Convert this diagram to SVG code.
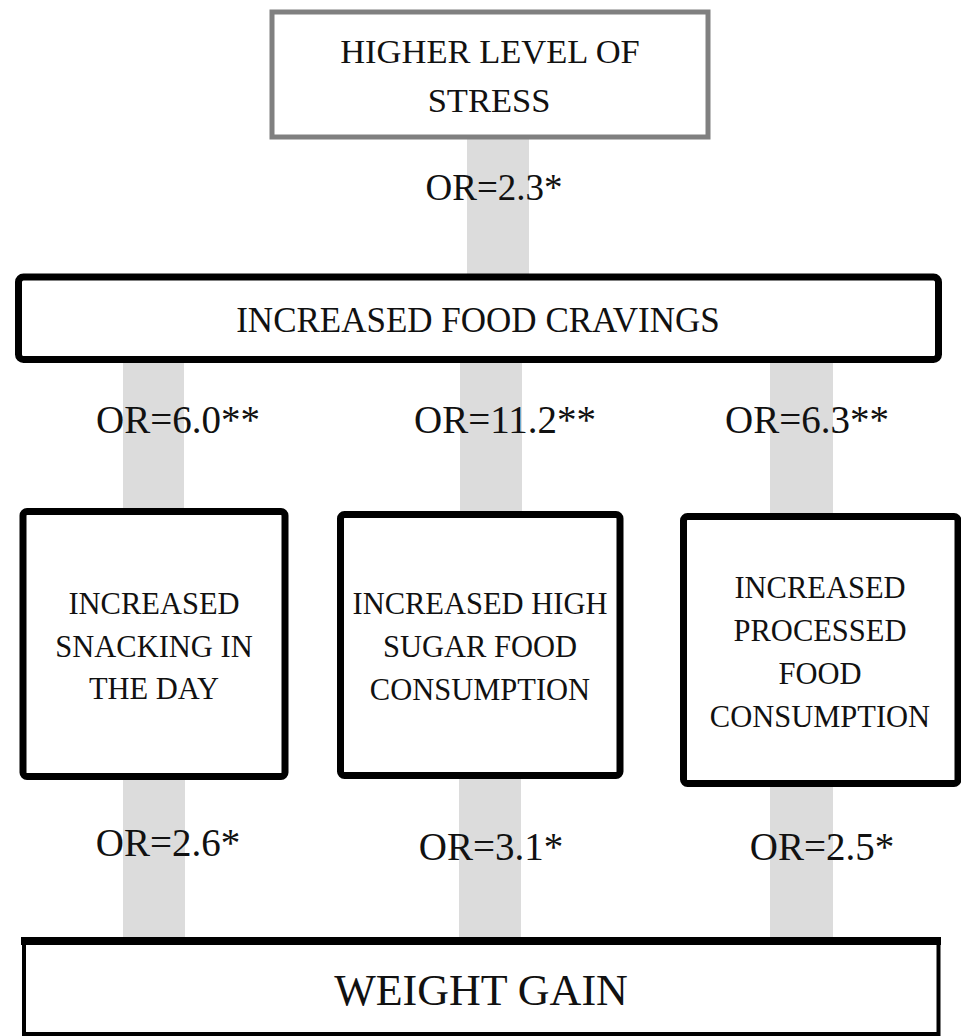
<svg xmlns="http://www.w3.org/2000/svg" width="961" height="1036" viewBox="0 0 961 1036">
<style>
.bar{fill:#dcdcdc}
.box{fill:#fff;stroke:#000;stroke-width:7}
.t{font-family:"Liberation Serif","Times New Roman",serif;fill:#111;text-anchor:middle}
.lbl{font-size:39px}
.in{font-size:30.5px}
</style>
<rect width="961" height="1036" fill="#fff"/>
<g id="connectors">
<rect class="bar" x="467" y="139" width="62" height="136"/>
<rect class="bar" x="123" y="363" width="61" height="147"/>
<rect class="bar" x="460" y="363" width="62" height="150"/>
<rect class="bar" x="770" y="363" width="63" height="152"/>
<rect class="bar" x="123" y="780" width="62" height="157"/>
<rect class="bar" x="459" y="779" width="62" height="158"/>
<rect class="bar" x="770" y="787" width="63" height="150"/>
<text class="t" x="494" y="200" font-size="37">OR=2.3*</text>
<text class="t lbl" x="178" y="433">OR=6.0**</text>
<text class="t lbl" x="505" y="433">OR=11.2**</text>
<text class="t lbl" x="807" y="433">OR=6.3**</text>
<text class="t lbl" x="168" y="856">OR=2.6*</text>
<text class="t lbl" x="491" y="860">OR=3.1*</text>
<text class="t lbl" x="822" y="860">OR=2.5*</text>
</g>
<g id="stress">
<rect x="272" y="12" width="436" height="125" fill="#fff" stroke="#808080" stroke-width="5"/>
<text class="t" x="490" y="63" font-size="34.5">HIGHER LEVEL OF</text>
<text class="t" x="489" y="112" font-size="34.5">STRESS</text>
</g>
<g id="cravings">
<rect class="box" x="18.5" y="277" width="920" height="82.5" rx="5"/>
<text class="t" x="478" y="332" font-size="35">INCREASED FOOD CRAVINGS</text>
</g>
<g id="snacking">
<rect class="box" x="23" y="511.5" width="262" height="265" rx="4"/>
<text class="t in" x="154" y="614">INCREASED</text>
<text class="t in" x="154" y="657">SNACKING IN</text>
<text class="t in" x="154" y="699">THE DAY</text>
</g>
<g id="sugar">
<rect class="box" x="340.5" y="514.5" width="279.5" height="261" rx="4"/>
<text class="t in" x="480" y="614">INCREASED HIGH</text>
<text class="t in" x="480" y="657">SUGAR FOOD</text>
<text class="t in" x="480" y="700">CONSUMPTION</text>
</g>
<g id="processed">
<rect class="box" x="683.5" y="516.5" width="274.5" height="267" rx="4"/>
<text class="t in" x="820" y="598">INCREASED</text>
<text class="t in" x="820" y="641">PROCESSED</text>
<text class="t in" x="820" y="684">FOOD</text>
<text class="t in" x="820" y="727">CONSUMPTION</text>
</g>
<g id="weight">
<rect x="24" y="941" width="914.5" height="93" fill="#fff" stroke="#000" stroke-width="4"/>
<line x1="21" y1="941" x2="941" y2="941" stroke="#000" stroke-width="8"/>
<text class="t" x="481" y="1005" font-size="44">WEIGHT GAIN</text>
</g>
</svg>
